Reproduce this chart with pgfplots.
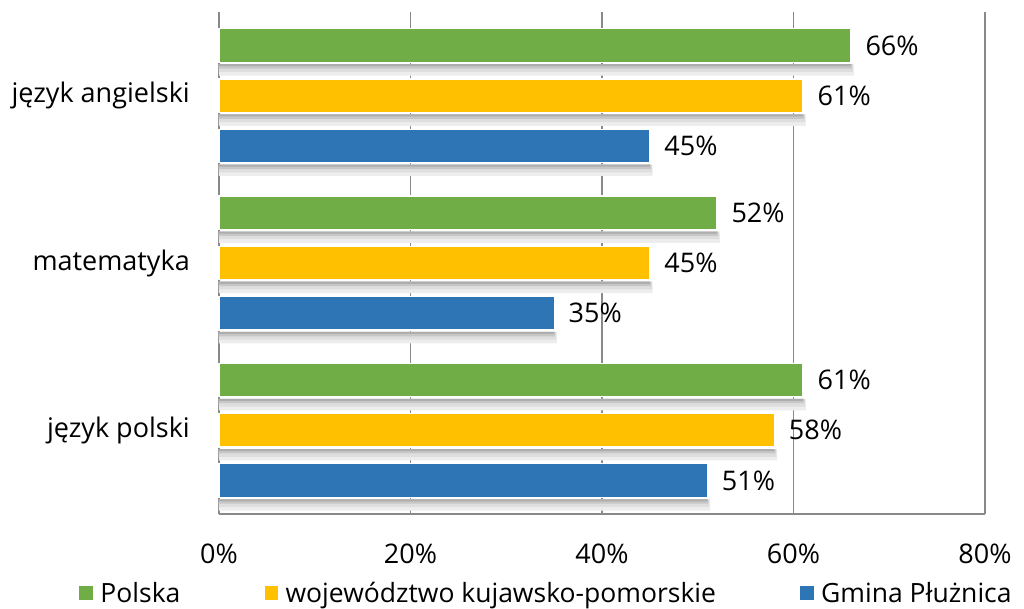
\documentclass[border=0pt]{standalone}
\usepackage{pgfplots}
\pgfplotsset{compat=1.18}
\usepackage{fontspec}
\setmainfont{Open Sans}
\definecolor{cgreen}{HTML}{70AD47}
\definecolor{cyellow}{HTML}{FFC000}
\definecolor{cblue}{HTML}{2E75B6}
\definecolor{cgrid}{HTML}{898989}
\begin{document}
\begin{tikzpicture}
\path[use as bounding box] (-219pt,-94pt) rectangle (805pt,514pt);
\begin{axis}[
  at={(0pt,0pt)}, anchor=origin,
  scale only axis, width=766pt, height=502pt,
  xmin=0, xmax=80, ymin=0.5, ymax=3.5,
  /pgf/number format/assume math mode=true,
  axis x line*=bottom, axis y line*=left,
  axis line style={-, draw=cgrid, line width=1.5pt},
  xmajorgrids, grid style={draw=cgrid, line width=1.5pt},
  major tick length=0pt,
  xtick={0,20,40,60,80},
  xticklabels={0\%,20\%,40\%,60\%,80\%},
  ytick={1,2,3},
  yticklabels={język polski,matematyka,język angielski},
  tick label style={font=\fontsize{27}{32}\selectfont},
  yticklabel style={inner sep=0pt, xshift=-29pt},
  xticklabel style={inner sep=0pt, yshift=-30pt},
  xbar, bar shift=0,
  nodes near coords={\pgfmathprintnumber[assume math mode=true]{\pgfplotspointmeta}\%},
  nodes near coords style={font=\fontsize{27}{32}\selectfont, inner sep=0pt, xshift=14pt, anchor=west, text=black},
  legend style={at={(axis description cs:-0.184,-0.157)}, anchor=west, draw=none, fill=none, inner sep=0pt,
    font=\fontsize{26.5}{32}\selectfont,
    /tikz/every even column/.append style={column sep=81pt}},
  legend columns=3,
  legend image code/.code={\path (0pt,0pt) -- (19pt,0pt); \fill[#1] (0pt,-7.5pt) rectangle (15pt,7.5pt);},
  clip=false,
]
% shadows (layered)
\addplot[forget plot, xbar, bar width=0.068, bar shift=-0.146, draw=none, fill=black!7, nodes near coords={}] coordinates {(66.3,3.3) (61.3,3.0) (45.3,2.7) (52.3,2.3) (45.3,2.0) (35.3,1.7) (61.3,1.3) (58.3,1.0) (51.3,0.7)};
\addplot[forget plot, xbar, bar width=0.046, bar shift=-0.135, draw=none, fill=black!13, nodes near coords={}] coordinates {(66.2,3.3) (61.2,3.0) (45.2,2.7) (52.2,2.3) (45.2,2.0) (35.2,1.7) (61.2,1.3) (58.2,1.0) (51.2,0.7)};
\addplot[forget plot, xbar, bar width=0.026, bar shift=-0.125, draw=none, fill=black!22, nodes near coords={}] coordinates {(66.1,3.3) (61.1,3.0) (45.1,2.7) (52.1,2.3) (45.1,2.0) (35.1,1.7) (61.1,1.3) (58.1,1.0) (51.1,0.7)};
\addplot[forget plot, xbar, bar width=0.012, bar shift=-0.118, draw=none, fill=black!32, nodes near coords={}] coordinates {(66,3.3) (61,3.0) (45,2.7) (52,2.3) (45,2.0) (35,1.7) (61,1.3) (58,1.0) (51,0.7)};
\addplot[xbar, bar width=0.2, fill=cgreen, draw=white, line width=1.2pt] coordinates {(66,3.3) (52,2.3) (61,1.3)};
\addplot[xbar, bar width=0.2, fill=cyellow, draw=white, line width=1.2pt] coordinates {(61,3.0) (45,2.0) (58,1.0)};
\addplot[xbar, bar width=0.2, fill=cblue, draw=white, line width=1.2pt] coordinates {(45,2.7) (35,1.7) (51,0.7)};
\legend{Polska, województwo kujawsko-pomorskie, Gmina Płużnica}
\end{axis}
\end{tikzpicture}
\end{document}
